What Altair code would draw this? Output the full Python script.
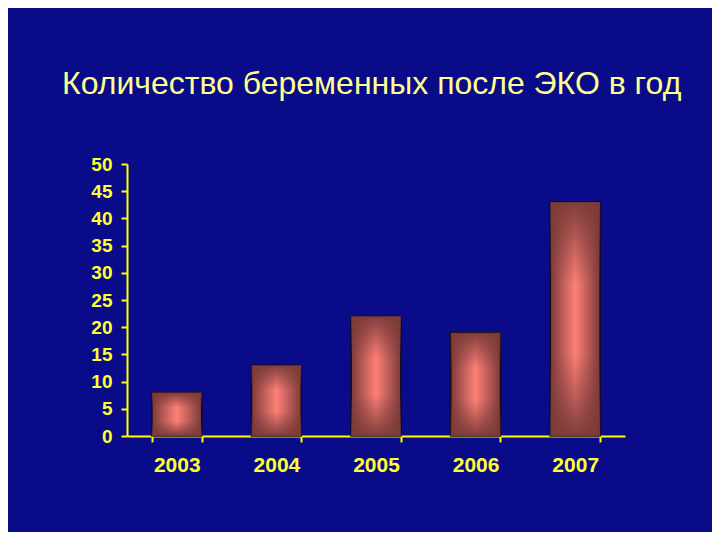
import altair as alt
import pandas as pd

years = ["2003", "2004", "2005", "2006", "2007"]
counts = [8, 13, 22, 19, 43]
y_ticks = [0, 5, 10, 15, 20, 25, 30, 35, 40, 45, 50]
title_text = "Количество беременных после ЭКО в год"

df = pd.DataFrame({"year": years, "count": counts})

dark = "#7a3a38"
light = "#ff8078"

h_grad = alt.Gradient(
    gradient="linear",
    stops=[
        alt.GradientStop(color=dark, offset=0),
        alt.GradientStop(color=light, offset=0.5),
        alt.GradientStop(color=dark, offset=1),
    ],
    x1=0, x2=1, y1=0, y2=0,
)
v_grad = alt.Gradient(
    gradient="linear",
    stops=[
        alt.GradientStop(color="rgba(122,58,56,0.95)", offset=0),
        alt.GradientStop(color="rgba(122,58,56,0)", offset=0.35),
        alt.GradientStop(color="rgba(122,58,56,0)", offset=0.65),
        alt.GradientStop(color="rgba(122,58,56,0.95)", offset=1),
    ],
    x1=0, x2=0, y1=0, y2=1,
)

x_enc = alt.X(
    "year:N",
    sort=years,
    title=None,
    scale=alt.Scale(paddingInner=0.5, paddingOuter=0.25),
    axis=alt.Axis(
        labelAngle=0,
        tickBand="extent",
        tickSize=6,
        labelPadding=12,
        labelFontSize=21,
        labelFontWeight="bold",
        labelFont="Liberation Sans",
        labelColor="#ffff33",
        domainColor="#ffff00",
        tickColor="#ffff00",
        domainWidth=2,
        tickWidth=2,
    ),
)
y_enc = alt.Y(
    "count:Q",
    title=None,
    scale=alt.Scale(domain=[0, 50], nice=False),
    axis=alt.Axis(
        values=y_ticks,
        grid=False,
        tickSize=6,
        labelPadding=9,
        labelFontSize=19,
        labelFontWeight="bold",
        labelFont="Liberation Sans",
        labelColor="#ffff33",
        domainColor="#ffff00",
        tickColor="#ffff00",
        domainWidth=2,
        tickWidth=2,
    ),
)

base = alt.Chart(df)
bars = base.mark_bar(color=h_grad, stroke="#120818", strokeWidth=1.5).encode(x=x_enc, y=y_enc)
shade = base.mark_bar(color=v_grad).encode(x=x_enc, y=y_enc)

chart = (
    alt.layer(bars, shade)
    .properties(
        width=498,
        height=272,
        padding={"left": 119, "top": 156, "right": 87, "bottom": 96},
        autosize=alt.AutoSizeParams(type="none"),
        background="#0a0b88",
        title=alt.TitleParams(
            text=title_text,
            anchor="start",
            frame="group",
            dx=-65,
            offset=29,
            baseline="alphabetic",
            fontSize=32,
            fontWeight="normal",
            font="Liberation Sans",
            color="#ffff90",
        ),
    )
    .configure_view(stroke=None)
)

chart.save("out.html", embed_options={"renderer": "svg", "actions": False})
